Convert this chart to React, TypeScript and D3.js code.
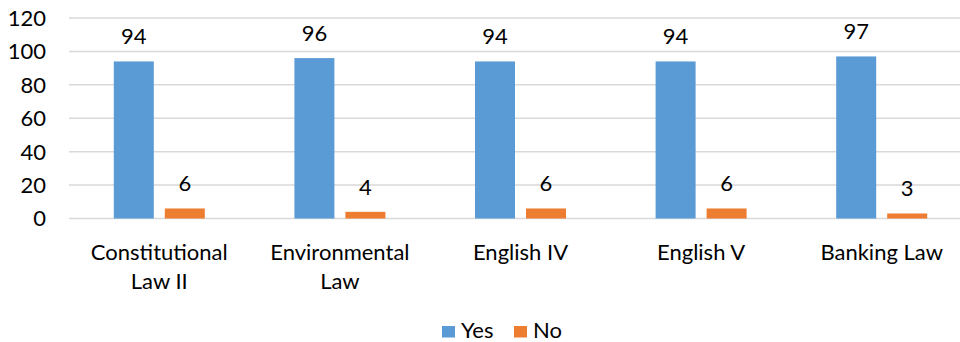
import React from "react";
import * as d3 from "d3";

const categories = [["Constitutional", "Law II"], ["Environmental", "Law"], ["English IV"], ["English V"], ["Banking Law"]];
const seriesNames = ["Yes", "No"];
const yesValues = [94, 96, 94, 94, 97];
const noValues = [6, 4, 6, 6, 3];
const yTicks = [0, 20, 40, 60, 80, 100, 120];
const colors = ["#5b9bd5", "#ed7d31"];

const W = 960, H = 342;
const FONT = "Lato, 'Open Sans', sans-serif";
const FS = 22;

export default function App() {
  const x = d3.scaleBand<number>().domain(d3.range(categories.length)).range([69, 972]).padding(0);
  const inner = d3.scaleBand<string>().domain(seriesNames).range([-45.5, 45.5]).paddingInner(2 - 91 / 51);
  const y = d3.scaleLinear().domain([0, 120]).range([218.5, 18]);
  const values = [yesValues, noValues];

  return (
    <svg width={W} height={H} style={{ position: "absolute", left: 0, top: 0, fontFamily: FONT }}>
      <rect width={W} height={H} fill="#fff" />
      {yTicks.map((t) => (
        <g key={t}>
          <line x1={69} x2={972} y1={y(t)} y2={y(t)} stroke="#d9d9d9" strokeWidth={1.5} />
          <text x={46} y={y(t)} dy="0.36em" textAnchor="end" fontSize={FS} fill="#000">{t}</text>
        </g>
      ))}
      {categories.map((c, i) => {
        const cx = x(i)! + x.bandwidth() / 2;
        return (
          <g key={i}>
            {seriesNames.map((s, si) => {
              const v = values[si][i];
              const bx = cx + inner(s)!;
              return (
                <g key={s}>
                  <rect x={bx} y={y(v)} width={inner.bandwidth()} height={y(0) - y(v)} fill={colors[si]} />
                  <text x={bx + inner.bandwidth() / 2} y={y(v) - 17} textAnchor="middle" fontSize={FS} fill="#000">{v}</text>
                </g>
              );
            })}
            {c.map((line, li) => (
              <text key={li} x={cx} y={260 + li * 29} textAnchor="middle" fontSize={FS} fill="#000">{line}</text>
            ))}
          </g>
        );
      })}
      <g>
        <rect x={442} y={326} width={13} height={11.5} fill={colors[0]} />
        <text x={461} y={337.5} fontSize={FS} fill="#000">Yes</text>
        <rect x={514} y={326} width={13} height={11.5} fill={colors[1]} />
        <text x={533} y={337.5} fontSize={FS} fill="#000">No</text>
      </g>
    </svg>
  );
}
